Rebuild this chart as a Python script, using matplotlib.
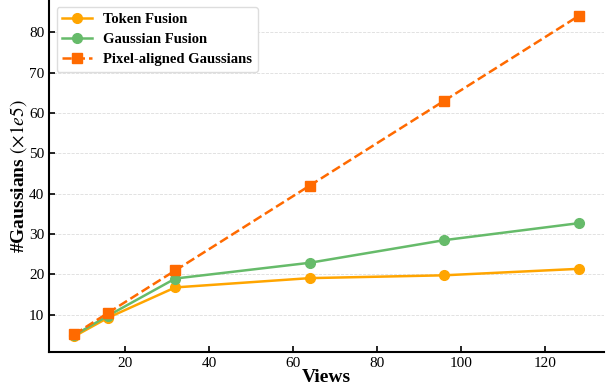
"""
Number of Gaussians vs. number of input views
"""

import matplotlib.pyplot as plt

#---------------------------------------------------------------------------------------------------
# Data
#---------------------------------------------------------------------------------------------------

views = [8, 16, 32, 64, 96, 128]
token_fusion = [4.7, 9.3, 16.8, 19.1, 19.8, 21.4]
gaussian_fusion = [5.0, 9.8, 19.0, 22.9, 28.5, 32.7]
pixel_aligned = [5.2, 10.5, 21.0, 42.0, 63.0, 84.0]

out_fname = 'out.png'

#---------------------------------------------------------------------------------------------------
# Plot
#---------------------------------------------------------------------------------------------------

plt.rcParams['font.family'] = ['Liberation Serif', 'DejaVu Serif']
plt.rcParams['mathtext.fontset'] = 'stix'

fig = plt.figure(figsize=(6.08, 3.88), dpi=100)
ax = fig.add_axes([0.081, 0.092, 0.912, 0.908])

ax.plot(views, token_fusion, '-o', color='#FFA500', lw=1.8, ms=7, label='Token Fusion', zorder=3)
ax.plot(views, gaussian_fusion, '-o', color='#66BB6A', lw=1.8, ms=7, label='Gaussian Fusion', zorder=3)
ax.plot(views, pixel_aligned, '--s', color='#FF6A00', lw=1.8, ms=7, label='Pixel-aligned Gaussians',
        zorder=3)

# Axes formatting
for s in ['top', 'right']:
    ax.spines[s].set_visible(False)
for s in ['left', 'bottom']:
    ax.spines[s].set_linewidth(1.5)
ax.tick_params(axis='both', direction='in', width=1.2, length=4, labelsize=11)
ax.set_xticks([20, 40, 60, 80, 100, 120])
ax.set_yticks([10, 20, 30, 40, 50, 60, 70, 80])
ax.yaxis.grid(True, ls='--', lw=0.6, color='#dddddd')
ax.set_axisbelow(True)

ax.set_xlabel('Views', size=14, weight='bold', labelpad=-1)
ax.set_ylabel(r'#Gaussians $(\times 1e5)$', size=14, weight='bold', labelpad=0)

ax.legend(loc='upper left', prop={'weight': 'bold', 'size': 10.5}, frameon=True, fancybox=True,
          edgecolor='#dddddd', framealpha=1, borderaxespad=0.5, handlelength=2.0,
          labelspacing=0.45)

plt.savefig(out_fname)
plt.close()
